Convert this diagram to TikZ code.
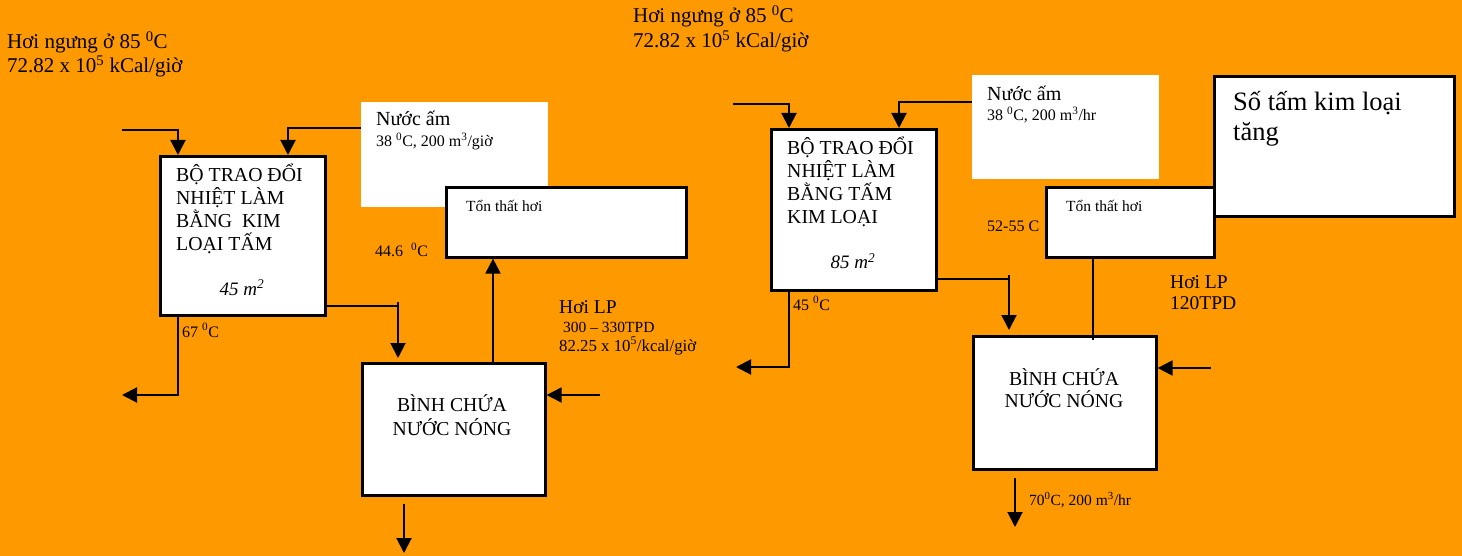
\documentclass[tikz,border=0pt]{standalone}
\usepackage{fontspec}
\setmainfont{Liberation Serif}
\usetikzlibrary{arrows.meta}
\definecolor{bgorange}{HTML}{FF9900}
\newcommand\fsz[2]{\fontsize{#1}{#2}\selectfont}

\begin{document}
\begin{tikzpicture}[x=1pt,y=-1pt,
  box/.style={draw,fill=white,line width=2.6pt,anchor=north west,inner sep=0pt},
  pad/.style={fill=white,anchor=north west,inner sep=0pt},
  lbl/.style={anchor=base west,inner sep=0pt,align=left},
  mid/.style={anchor=base,inner sep=0pt,align=center},
  pipe/.style={line width=2pt},
  flow/.style={line width=2pt,-{Triangle[length=15pt,width=15pt]}}]
\fill[bgorange] (0,0) rectangle (1462,556);
\useasboundingbox (0,0) rectangle (1462,556);

\node[box,minimum width=165pt,minimum height=159pt] (hxA) at (159,155) {};
\node[pad,minimum width=187pt,minimum height=105pt] (nuocA) at (361,102) {};
\node[box,minimum width=240pt,minimum height=70pt] (tonA) at (445,186) {};
\node[box,minimum width=183pt,minimum height=132pt] (binhA) at (361,362) {};

\node[lbl,font=\fsz{21}{24}] (ngungA) at (7,73) {Hơi ngưng ở 85 \textsuperscript{0}C\\72.82 x 10\textsuperscript{5} kCal/giờ};
\node[lbl,font=\fsz{19.8}{23}] (hxAtxt) at (176,251) {BỘ TRAO ĐỔI\\NHIỆT LÀM\\BẰNG\ \ KIM\\LOẠI TẤM};
\node[mid,font=\fsz{19}{23}\itshape] (hxAarea) at (242,295) {45 m\textsuperscript{2}};
\node[lbl,font=\fsz{20}{21}] (nuocAtxt) at (376,147) {Nước ấm\\{\fsz{16}{21}38 \textsuperscript{0}C, 200 m\textsuperscript{3}/giờ}};
\node[lbl,font=\fsz{15.5}{19}] (tonAtxt) at (466,212) {Tổn thất hơi};
\node[lbl,font=\fsz{16}{19}] (tA) at (375,257) {44.6\ \ \textsuperscript{0}C};
\node[lbl,font=\fsz{16}{19}] (tAout) at (182,337) {67 \textsuperscript{0}C};
\node[mid,font=\fsz{19.7}{24}] (binhAtxt) at (452,435) {BÌNH CHỨA\\NƯỚC NÓNG};
\node[lbl,font=\fsz{19.5}{19}] (lpA) at (559,351) {Hơi LP\\{\fsz{15.5}{19}\hspace{4pt}300 – 330TPD}\\{\fsz{16.8}{19}82.25 x 10\textsuperscript{5}/kcal/giờ}};

\coordinate (inA) at (122,130);
\coordinate (cA) at (398,306);
\coordinate (outA) at (122,395);
\coordinate (steamA) at (600,395);
\coordinate (botA) at (404,553);
\draw[flow] (inA) -| ([xshift=19pt]hxA.north west);
\draw[flow] ([yshift=-26pt]nuocA.north west) -| ([xshift=129pt]hxA.north west);
\draw[pipe] (cA -| hxA.east) -- (cA);
\draw[flow,shorten >=4pt] ([yshift=4pt]cA) -- ([xshift=37pt]binhA.north west);
\draw[flow] ([xshift=19pt]hxA.south west) |- (outA);
\draw[flow] ([xshift=132pt]binhA.north west) -- ([xshift=48pt]tonA.south west);
\draw[flow] (steamA) -- (steamA -| binhA.east);
\draw[flow] ([xshift=43pt,yshift=-7pt]binhA.south west) -- (botA);

\node[box,minimum width=165pt,minimum height=161pt] (hxB) at (770,128) {};
\node[pad,minimum width=187pt,minimum height=104pt] (nuocB) at (972,75) {};
\node[box,minimum width=168pt,minimum height=70pt] (tonB) at (1045,186) {};
\node[box,minimum width=240pt,minimum height=140pt] (soB) at (1213,75) {};
\node[box,minimum width=183pt,minimum height=133pt] (binhB) at (972,335) {};

\node[lbl,font=\fsz{21}{25}] (ngungB) at (633,48) {Hơi ngưng ở 85 \textsuperscript{0}C\\72.82 x 10\textsuperscript{5} kCal/giờ};
\node[lbl,font=\fsz{19.8}{23}] (hxBtxt) at (787,224) {BỘ TRAO ĐỔI\\NHIỆT LÀM\\BẰNG TẤM\\KIM LOẠI};
\node[mid,font=\fsz{19}{23}\itshape] (hxBarea) at (853,269) {85 m\textsuperscript{2}};
\node[lbl,font=\fsz{20}{20}] (nuocBtxt) at (987,121) {Nước ấm\\{\fsz{16}{20}38 \textsuperscript{0}C, 200 m\textsuperscript{3}/hr}};
\node[lbl,font=\fsz{15.5}{19}] (tonBtxt) at (1066,212) {Tổn thất hơi};
\node[lbl,font=\fsz{26.5}{30}] (soBtxt) at (1233,141) {Số tấm kim loại\\tăng};
\node[lbl,font=\fsz{16}{19}] (tB) at (987,232) {52-55 C};
\node[lbl,font=\fsz{16}{19}] (tBout) at (793,310) {45 \textsuperscript{0}C};
\node[lbl,font=\fsz{19.5}{21}] (lpB) at (1170,309) {Hơi LP\\120TPD};
\node[mid,font=\fsz{19.7}{22}] (binhBtxt) at (1064,407) {BÌNH CHỨA\\NƯỚC NÓNG};
\node[lbl,font=\fsz{15.5}{19}] (hotB) at (1029,505) {70\textsuperscript{0}C, 200 m\textsuperscript{3}/hr};

\coordinate (inB) at (733,104);
\coordinate (cB) at (1009,279);
\coordinate (outB) at (736,367);
\coordinate (steamB) at (1211,368);
\coordinate (botB) at (1015,527);
\draw[flow] (inB) -| ([xshift=19pt]hxB.north west);
\draw[flow] ([yshift=-27pt]nuocB.north west) -| ([xshift=129pt]hxB.north west);
\draw[pipe] (cB -| hxB.east) -- (cB);
\draw[flow,shorten >=5pt] ([yshift=4pt]cB) -- ([xshift=37pt]binhB.north west);
\draw[flow] ([xshift=19pt]hxB.south west) |- (outB);
\draw[pipe] ([xshift=48pt]tonB.south west) -- ([xshift=121pt,yshift=-5pt]binhB.north west);
\draw[flow] (steamB) -- (steamB -| binhB.east);
\draw[flow] ([xshift=43pt,yshift=-7pt]binhB.south west) -- (botB);
\end{tikzpicture}
\end{document}
